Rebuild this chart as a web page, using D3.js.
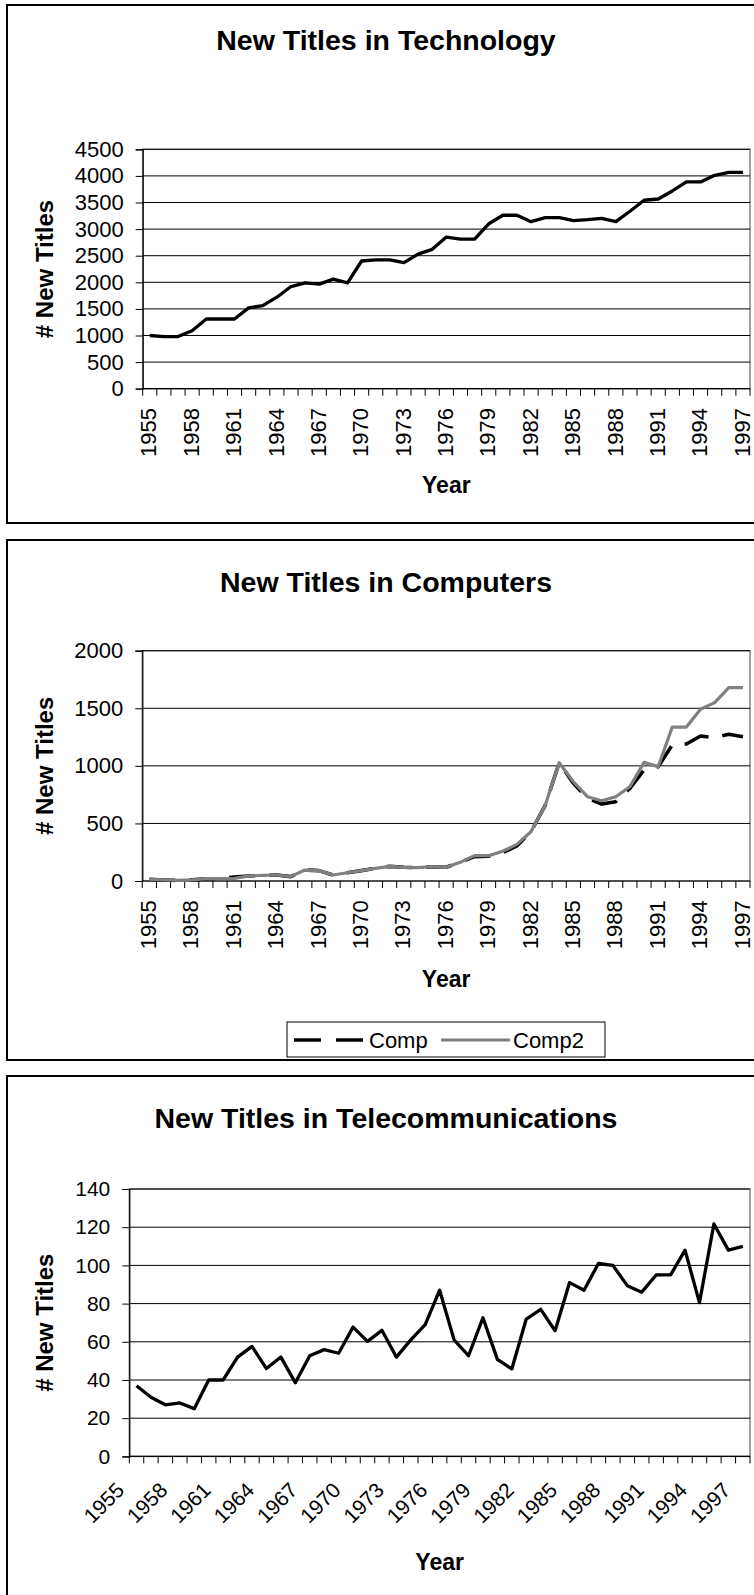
<!DOCTYPE html>
<html>
<head>
<meta charset="utf-8">
<script src="https://cdn.jsdelivr.net/npm/d3@7"></script>
<style>
  html, body { margin: 0; padding: 0; background: #fff; }
  svg { display: block; }
  text { font-family: "Liberation Sans", Arial, Helvetica, sans-serif; fill: #000; }
</style>
</head>
<body>
<svg id="chart" width="754" height="1595"></svg>
<script>
// ---------- DATA ----------
const years = d3.range(1955, 1998).map(String);
const yearLabels = ["1955","1958","1961","1964","1967","1970","1973","1976","1979","1982","1985","1988","1991","1994","1997"];

const technology = [1000, 980, 980, 1090, 1310, 1310, 1310, 1520, 1560, 1720, 1920, 1990, 1965, 2060, 1990,
  2400, 2420, 2420, 2370, 2530, 2620, 2850, 2810, 2810, 3100, 3260, 3260, 3140, 3215, 3215,
  3160, 3177, 3203, 3140, 3335, 3542, 3566, 3717, 3886, 3886, 4012, 4068, 4068];
const techTicks = [0, 500, 1000, 1500, 2000, 2500, 3000, 3500, 4000, 4500];

const comp = [15, 9, 5, 10, 20, 20, 35, 43, 49, 52, 38, 95, 90, 52, 72,
  90, 110, 127, 119, 116, 124, 119, 162, 212, 215, 246, 304, 428, 654, 1027,
  850, 718, 668, 689, 805, 964, 993, 1181, 1190, 1259, 1245, 1274, 1253];
const comp2 = [15, 9, 5, 10, 20, 20, 23, 43, 49, 52, 38, 95, 90, 52, 72,
  90, 110, 127, 119, 116, 124, 119, 162, 220, 220, 258, 318, 428, 654, 1027,
  862, 732, 697, 732, 819, 1030, 993, 1337, 1337, 1491, 1549, 1679, 1679];
const compTicks = [0, 500, 1000, 1500, 2000];

const telecom = [37, 31, 27, 28, 25, 40, 40, 52, 57.6, 46, 52, 38.6, 52.7, 55.9, 54,
  67.7, 60.2, 66, 52, 61, 69, 87, 61, 52.7, 72.6, 50.8, 45.8, 71.9, 77, 65.8,
  91, 87, 101, 100, 89.4, 86, 95, 95, 108, 80.5, 121.7, 108, 110];
const teleTicks = [0, 20, 40, 60, 80, 100, 120, 140];

const titles = ["New Titles in Technology", "New Titles in Computers", "New Titles in Telecommunications"];
const yTitle = "# New Titles";
const xTitle = "Year";
const seriesNames = ["Comp", "Comp2"];

// ---------- DRAW ----------
const svg = d3.select("#chart");

function drawChart(cfg) {
  const g = svg.append("g");
  g.append("rect")
    .attr("x", 7).attr("y", cfg.boxTop)
    .attr("width", 800).attr("height", cfg.boxBottom - cfg.boxTop)
    .attr("fill", "#fff").attr("stroke", "#000").attr("stroke-width", 2);

  const x = d3.scaleBand().domain(years).range([cfg.left, cfg.right]).padding(0);
  const y = d3.scaleLinear().domain([0, d3.max(cfg.ticks)]).range([cfg.bottom, cfg.top]);

  g.append("rect")
    .attr("x", cfg.left).attr("y", cfg.top)
    .attr("width", cfg.right - cfg.left).attr("height", cfg.bottom - cfg.top)
    .attr("fill", "none").attr("stroke", "#808080").attr("stroke-width", 1.5);

  g.append("g").selectAll("line").data(cfg.ticks.filter(t => t > 0)).join("line")
    .attr("x1", cfg.left).attr("x2", cfg.right)
    .attr("y1", d => y(d)).attr("y2", d => y(d))
    .attr("stroke", "#000").attr("stroke-width", 1);

  const yAxis = d3.axisLeft(y).tickValues(cfg.ticks).tickSize(7).tickPadding(12).tickFormat(d3.format("d"));
  const ya = g.append("g").attr("transform", `translate(${cfg.left},0)`).call(yAxis);
  ya.select(".domain").attr("stroke", "#000").attr("stroke-width", 1.2);
  ya.selectAll(".tick line").attr("stroke", "#000").attr("stroke-width", 1);
  ya.selectAll(".tick text").attr("font-size", cfg.tickFont).attr("fill", "#000")
    .style("font-family", '"Liberation Sans", Arial, sans-serif');

  g.append("line").attr("x1", cfg.left).attr("x2", cfg.right)
    .attr("y1", cfg.bottom).attr("y2", cfg.bottom).attr("stroke", "#000").attr("stroke-width", 1.2);
  const bounds = years.map(d => x(d)).concat([cfg.right]);
  g.append("g").selectAll("line").data(bounds).join("line")
    .attr("x1", d => d).attr("x2", d => d)
    .attr("y1", cfg.bottom).attr("y2", cfg.bottom + 7)
    .attr("stroke", "#000").attr("stroke-width", 1);

  const cx = d => x(d) + x.bandwidth() / 2;
  const xl = g.append("g").selectAll("text").data(yearLabels).join("text")
    .attr("font-size", cfg.tickFont)
    .attr("text-anchor", "end")
    .text(d => d);
  if (cfg.rot === 90) {
    xl.attr("transform", d => `translate(${cx(d) - 1},${cfg.bottom + 19.3}) rotate(-90)`).attr("dy", "0.35em");
  } else {
    xl.attr("transform", d => `translate(${cx(d) - 11},${cfg.bottom + 35}) rotate(-45)`);
  }

  g.append("text").attr("x", 386).attr("y", cfg.titleY).attr("text-anchor", "middle")
    .attr("font-size", 28.5).attr("font-weight", "bold").text(cfg.title);
  g.append("text").attr("transform", `translate(45,${(cfg.top + cfg.bottom) / 2}) rotate(-90)`)
    .attr("text-anchor", "middle").attr("dy", "0.35em")
    .attr("font-size", 24).attr("font-weight", "bold").text(yTitle);
  g.append("text").attr("x", (cfg.left + cfg.right) / 2).attr("y", cfg.yearY).attr("text-anchor", "middle")
    .attr("font-size", 23).attr("font-weight", "bold").text(xTitle);

  const line = d3.line().x((d, i) => cx(years[i])).y(d => y(d));
  cfg.series.forEach(s => {
    g.append("path").datum(s.values)
      .attr("d", line).attr("fill", "none")
      .attr("stroke", s.color).attr("stroke-width", s.width)
      .attr("stroke-dasharray", s.dash || null)
      .attr("stroke-linejoin", "round").attr("stroke-linecap", "butt");
  });
  return g;
}

drawChart({
  boxTop: 5, boxBottom: 523,
  left: 142.7, right: 750, top: 149.3, bottom: 388.7,
  ticks: techTicks, tickFont: 22, rot: 90,
  title: titles[0], titleY: 50, yearY: 493,
  series: [{ values: technology, color: "#000", width: 3.3 }]
});

const g2 = drawChart({
  boxTop: 540, boxBottom: 1060,
  left: 142.3, right: 750, top: 650.7, bottom: 881,
  ticks: compTicks, tickFont: 22, rot: 90,
  title: titles[1], titleY: 592, yearY: 987,
  series: [
    { values: comp, color: "#000", width: 3.6, dash: "26,14" },
    { values: comp2, color: "#808080", width: 3.2 }
  ]
});

const lg = g2.append("g");
lg.append("rect").attr("x", 287).attr("y", 1022).attr("width", 318).attr("height", 35)
  .attr("fill", "#fff").attr("stroke", "#000").attr("stroke-width", 1);
lg.append("line").attr("x1", 294).attr("x2", 365).attr("y1", 1040).attr("y2", 1040)
  .attr("stroke", "#000").attr("stroke-width", 3.6).attr("stroke-dasharray", "27,15");
lg.append("text").attr("x", 369).attr("y", 1040).attr("dy", "0.35em").attr("font-size", 22).text(seriesNames[0]);
lg.append("line").attr("x1", 441).attr("x2", 510).attr("y1", 1040).attr("y2", 1040)
  .attr("stroke", "#808080").attr("stroke-width", 3.2);
lg.append("text").attr("x", 513).attr("y", 1040).attr("dy", "0.35em").attr("font-size", 22).text(seriesNames[1]);

drawChart({
  boxTop: 1076, boxBottom: 1700,
  left: 129.3, right: 750, top: 1189, bottom: 1456.4,
  ticks: teleTicks, tickFont: 21, rot: 45,
  title: titles[2], titleY: 1128, yearY: 1570,
  series: [{ values: telecom, color: "#000", width: 3.3 }]
});
</script>
</body>
</html>
